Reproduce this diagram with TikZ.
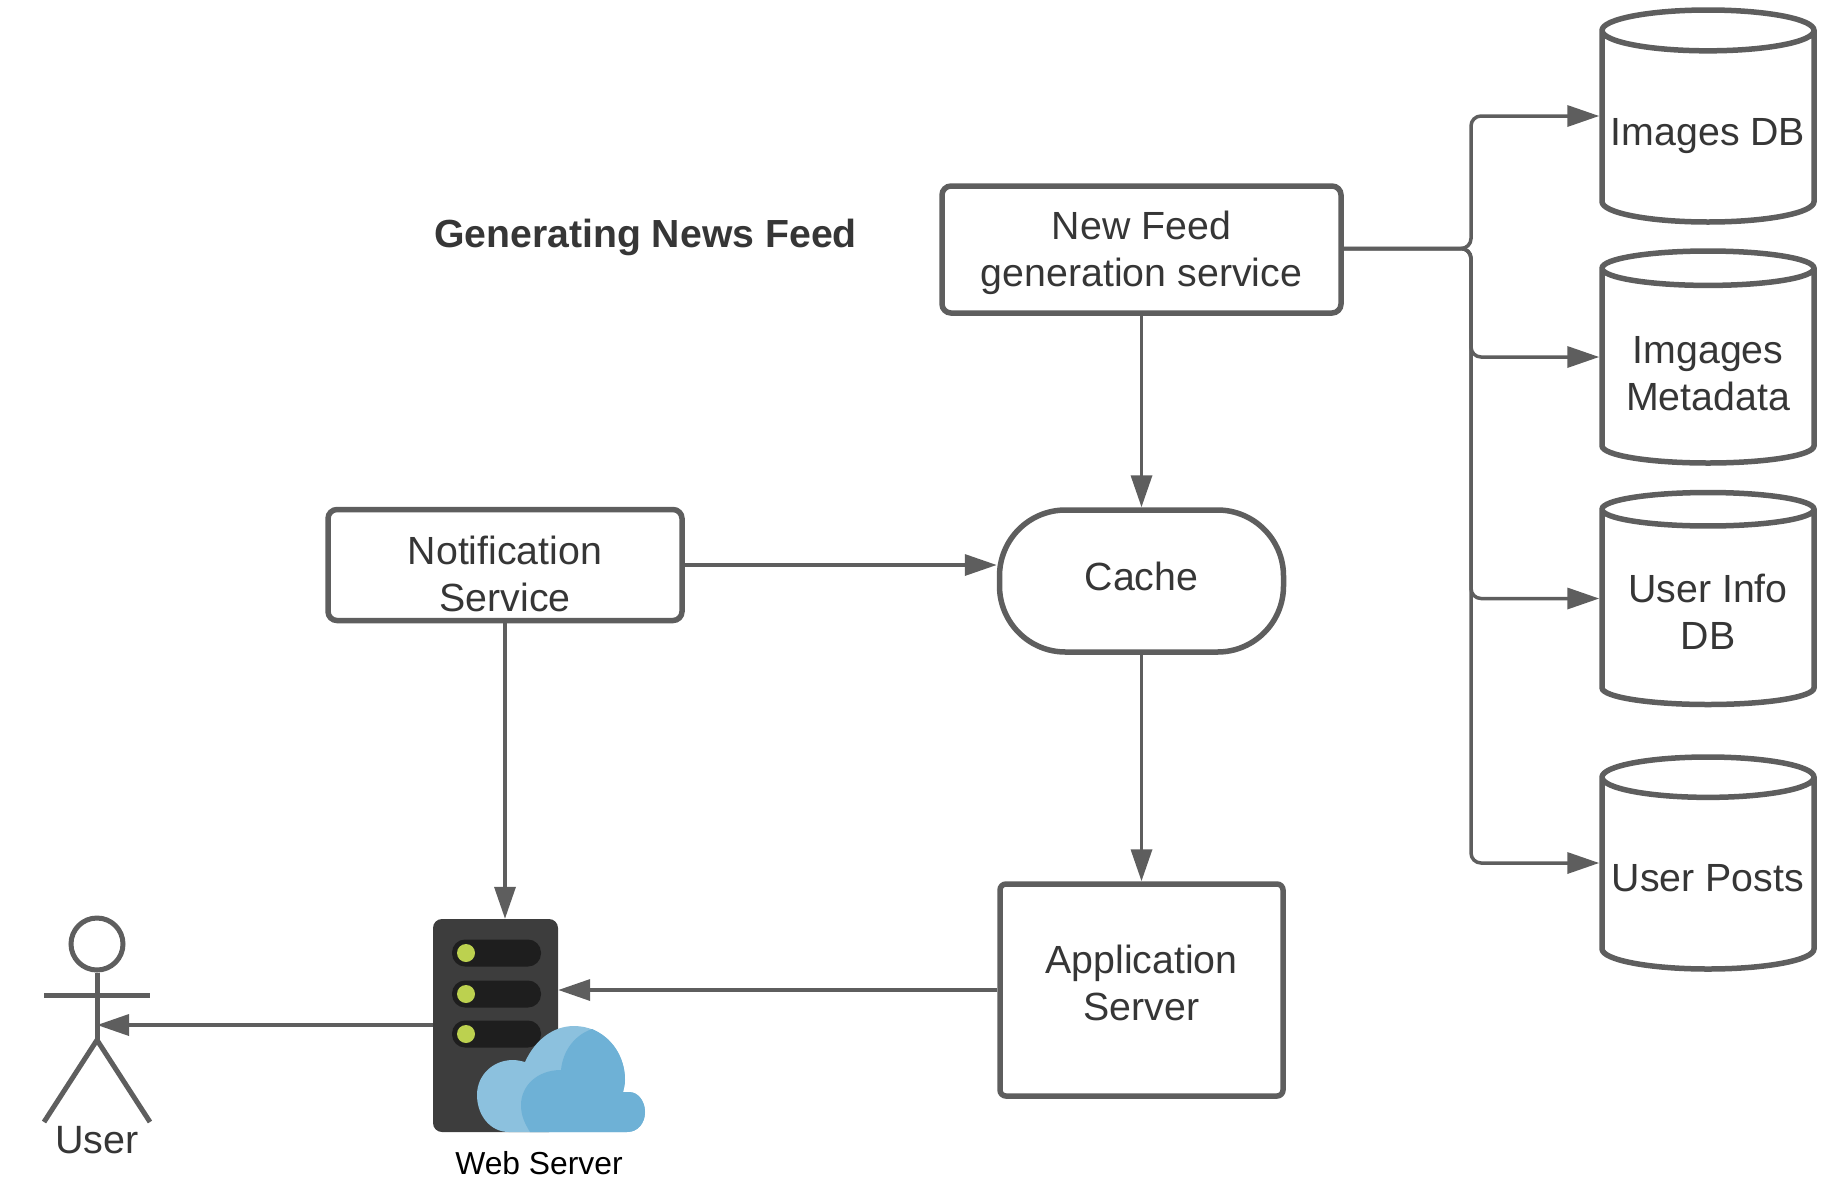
\documentclass[tikz,border=0pt]{standalone}
\usepackage{fontspec}
\setmainfont{Liberation Sans}
\usetikzlibrary{arrows.meta,shapes.geometric}
\definecolor{linegrey}{HTML}{5E5E5E}
\definecolor{textgrey}{HTML}{363636}
\definecolor{rackgrey}{HTML}{3D3D3D}
\definecolor{slotgrey}{HTML}{1E1E1E}
\definecolor{ledgreen}{HTML}{BCD14F}
\definecolor{cloudlight}{HTML}{8CC1DE}
\definecolor{clouddark}{HTML}{6EB1D6}
\tikzset{
  boxnode/.style={draw=linegrey,line width=5.5pt,rounded corners=9pt,fill=white,text=textgrey,
    align=center,inner sep=0pt,font=\fontsize{39.3}{47}\selectfont},
  dbnode/.style={cylinder,shape border rotate=90,aspect=0.21,draw=linegrey,line width=5.5pt,
    fill=white,text=textgrey,align=center,inner sep=0pt,minimum width=212pt,minimum height=212pt,
    anchor=shape center,font=\fontsize{39.3}{47}\selectfont},
  conn/.style={draw=linegrey,line width=3.5pt,-{Triangle[length=32pt,width=21pt]}},
  bus/.style={conn,rounded corners=10pt},
  stick/.style={draw=linegrey,line width=5pt},
}
\begin{document}
\begin{tikzpicture}[x=1pt,y=-1pt]
    \useasboundingbox (0,0) rectangle (1844,1176);
    \node[font=\fontsize{39.2}{47}\selectfont\bfseries,text=textgrey,inner sep=0pt] (title) at (645.5,237.5) {Generating News Feed};
    \node[boxnode,minimum width=399pt,minimum height=127pt] (feed) at (1141.5,249.5) {\rule{0pt}{36pt}New Feed\\generation service};
    \node[boxnode,minimum width=354pt,minimum height=111pt] (notify) at (505,565) {\rule{0pt}{46pt}Notification\\Service};
    \node[boxnode,rounded corners=66pt,minimum width=284pt,minimum height=142pt] (cache) at (1141.5,581) {\rule[-9pt]{0pt}{9pt}Cache};
    \node[boxnode,rounded corners=6pt,minimum width=283pt,minimum height=212pt] (app) at (1141.5,990) {Application\\\rule[-14pt]{0pt}{14pt}Server};
    \node[dbnode] (imgdb) at (1708,116) {\rule{0pt}{44pt}Images DB};
    \node[dbnode] (imgmeta) at (1708,357) {\rule{0pt}{40pt}Imgages\\Metadata};
    \node[dbnode] (userinfo) at (1708,598.5) {\rule{0pt}{35pt}User Info\\DB};
    \node[dbnode] (posts) at (1708,863) {\rule{0pt}{35pt}User Posts};
    % web server
    \node[fill=rackgrey,rounded corners=9pt,minimum width=125pt,minimum height=213pt,inner sep=0pt] (server) at (495.5,1025.5) {};
    \foreach \slot in {953,994,1034} {
      \fill[slotgrey,rounded corners=13pt] (452,\slot-13.5) rectangle (541,\slot+13.5);
      \fill[ledgreen] (466,\slot) circle (9pt);
    }
    \fill[cloudlight] (509,1132) .. controls (490,1132) and (477,1115) .. (477,1095)
      .. controls (477,1075) and (493,1060) .. (513,1060)
      .. controls (517,1060) and (521,1061) .. (525,1062)
      .. controls (535,1040) and (553,1026) .. (574,1026)
      .. controls (603,1026) and (625,1050) .. (625,1080)
      .. controls (625,1084) and (624,1088) .. (623,1092) -- (629,1092)
      .. controls (638,1092) and (645,1101) .. (645,1112)
      .. controls (645,1123) and (638,1132) .. (627,1132) -- cycle;
    \fill[clouddark] (530,1132) .. controls (524,1122) and (521,1115) .. (521,1105)
      .. controls (521,1086) and (537,1070) .. (561,1070)
      .. controls (563,1050) and (575,1035) .. (592,1029)
      .. controls (611,1037) and (625,1056) .. (625,1080)
      .. controls (625,1084) and (624,1088) .. (623,1092) -- (629,1092)
      .. controls (638,1092) and (645,1101) .. (645,1112)
      .. controls (645,1123) and (638,1132) .. (627,1132) -- cycle;
    \node[font=\fontsize{31.8}{38}\selectfont,text=black,inner sep=0pt] (serverlabel) at (539,1163) {Web Server};
    % user
    \node[circle,draw=linegrey,line width=5pt,minimum size=52pt,inner sep=0pt] (head) at (97,944) {};
    \coordinate (hip) at (97,1040);
    \coordinate (chest) at (97,1025);
    \coordinate (lhand) at (44,995);
    \coordinate (rhand) at (150,995);
    \coordinate (lfoot) at (44,1122);
    \coordinate (rfoot) at (150,1122);
    \draw[stick] (head) -- (hip);
    \draw[stick] (lhand) -- (rhand);
    \draw[stick] (lfoot) -- (hip) -- (rfoot);
    \node[font=\fontsize{39.5}{45}\selectfont,text=textgrey,inner sep=0pt] (userlabel) at (97,1140) {User};
    % connectors
    \coordinate (junction) at (1471,248.5);
    \draw[conn] (feed) -- (cache);
    \draw[conn] (notify.east |- 0,565) -- (cache.west |- 0,565);
    \draw[conn] (cache) -- (app);
    \draw[conn] (notify.south) -- (notify.south |- server.north);
    \draw[conn] (app.west) -- (server.east |- app.west);
    \draw[conn] (server.west |- chest) -- (chest);
    \draw[bus] (feed.east |- junction) -- (junction) |- (imgdb.west |- imgdb.shape center);
    \draw[bus] (feed.east |- junction) -- (junction) |- (imgmeta.west |- imgmeta.shape center);
    \draw[bus] (feed.east |- junction) -- (junction) |- (userinfo.west |- userinfo.shape center);
    \draw[bus] (feed.east |- junction) -- (junction) |- (posts.west |- posts.shape center);
  \end{tikzpicture}
\end{document}
